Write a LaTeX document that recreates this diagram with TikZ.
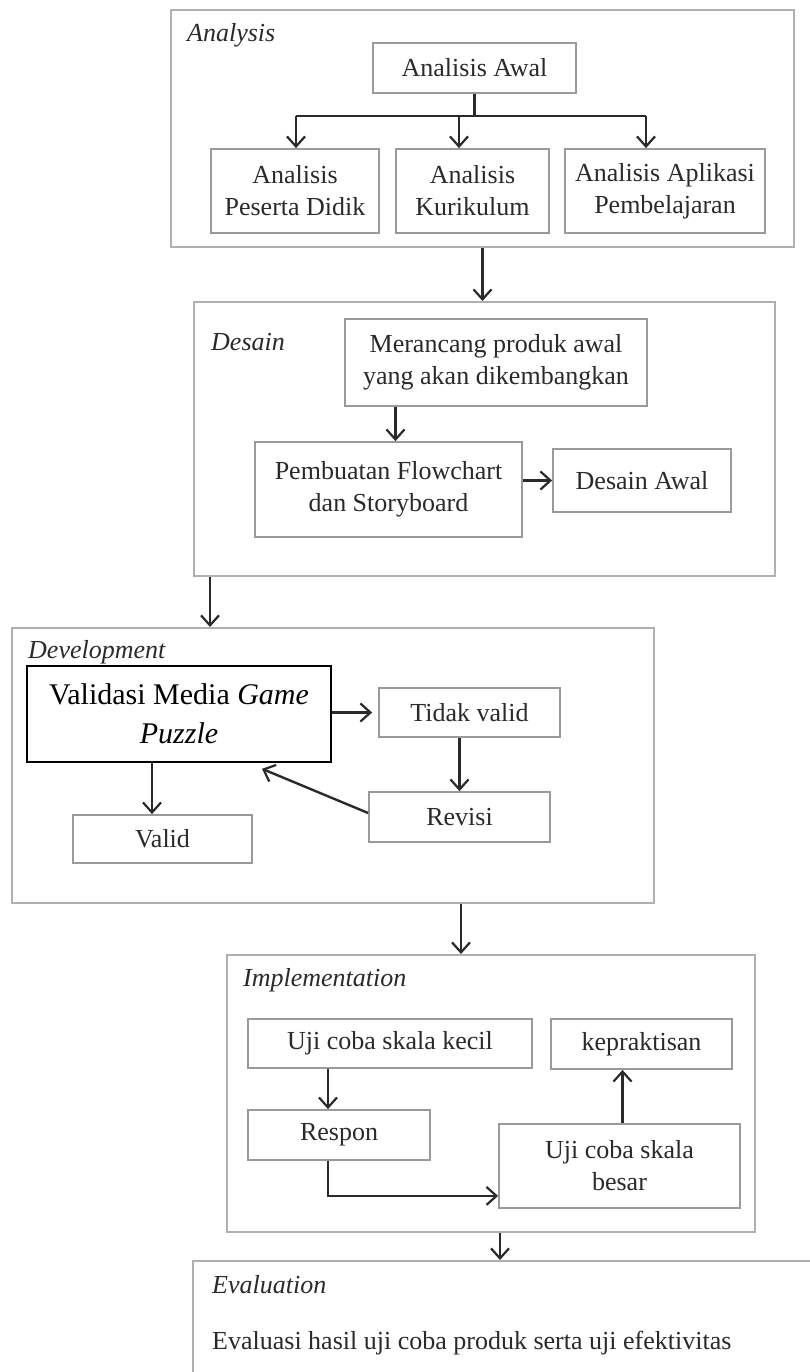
\documentclass[tikz,border=0pt]{standalone}
\usepackage{fontspec}
\setmainfont{Liberation Serif}
\usetikzlibrary{arrows.meta,calc,positioning}
\definecolor{BoxGray}{HTML}{9A9A9A}
\definecolor{FrameGray}{HTML}{B0B0B0}
\definecolor{InkGray}{HTML}{2A2A2A}
\tikzset{
    block/.style = {draw=BoxGray, rectangle, line width=1.8pt,
        inner sep=0pt, align=center, text=InkGray,
        font=\fontsize{26}{32}\selectfont},
    phase/.style = {draw=FrameGray, rectangle, line width=2pt, inner sep=0pt},
    tag/.style = {anchor=west, inner sep=0pt, text=InkGray,
        font=\fontsize{26}{32}\selectfont\itshape},
    arrow/.style = {draw=InkGray, ->, line width=2.4pt},
    line/.style = {draw=InkGray, line width=2.4pt}
}

\begin{document}
\begin{tikzpicture}[x=1pt, y=-1pt, >={Straight Barb[length=10pt,width=18pt,line width=2.2pt]}]
        \useasboundingbox (0,0) rectangle (809,1372);
        \fill[white] (0,0) rectangle (809,1372);
        % phase frames
        \node [phase, minimum width=623pt, minimum height=237pt] (analysis) at (482.5,128.5) {};
        \node [phase, minimum width=581pt, minimum height=274pt] (desain) at (484.5,439) {};
        \node [phase, minimum width=642pt, minimum height=275pt] (devel) at (333,765.5) {};
        \node [phase, minimum width=528pt, minimum height=277pt] (impl) at (491,1093.5) {};
        \node [phase, minimum width=657pt, minimum height=139pt] (eval) at (521.5,1330.5) {};
        \node [tag] (tanalysis) at (187,35) {Analysis};
        \node [tag] (tdesain) at (211,342) {Desain};
        \node [tag] (tdevel) at (28,652) {Development};
        \node [tag] (timpl) at (243,980) {Implementation};
        \node [tag] (teval) at (212,1285) {Evaluation};
        \node [tag, font=\fontsize{26}{32}\selectfont] (evaltext) at (212,1343) {Evaluasi hasil uji coba produk serta uji efektivitas};
        % analysis
        \node [block, minimum width=203pt, minimum height=50pt] (awal) at (474.5,68) {Analisis Awal};
        \node [block, minimum width=168pt, minimum height=84pt] (peserta) at (295,191) {Analisis\\Peserta Didik};
        \node [block, minimum width=153pt, minimum height=84pt] (kurikulum) at (472.5,191) {Analisis\\Kurikulum};
        \node [block, minimum width=200pt, minimum height=84pt] (aplikasi) at (665,191) {Analisis Aplikasi\\Pembelajaran};
        \coordinate (split) at (474.5,116);
        \coordinate (bl) at (296,116);
        \coordinate (bm) at (459,116);
        \coordinate (br) at (646,116);
        \draw [line] (awal) -- (split);
        \draw [line] (bl) -- (br);
        \draw [arrow] (bl) -- (bl |- peserta.north);
        \draw [arrow] (bm) -- (bm |- kurikulum.north);
        \draw [arrow] (br) -- (br |- aplikasi.north);
        \draw [arrow] (analysis.south) -- (analysis.south |- desain.north);
        % desain
        \node [block, minimum width=302pt, minimum height=87pt] (merancang) at (496,362.5) {Merancang produk awal\\yang akan dikembangkan};
        \node [block, minimum width=267pt, minimum height=95pt] (flowchart) at (388.5,489.5) {Pembuatan Flowchart\\dan Storyboard};
        \node [block, minimum width=178pt, minimum height=63pt] (desawal) at (642,480.5) {Desain Awal};
        \draw [arrow] ([xshift=7pt]flowchart.north |- merancang.south) -- ([xshift=7pt]flowchart.north);
        \draw [arrow] (flowchart.east |- desawal.west) -- (desawal.west);
        \draw [arrow] ([xshift=17pt]desain.south west) -- ([xshift=17pt]desain.south west |- devel.north);
        % development
        \node [block, draw=black, text=black, line width=1.6pt, minimum width=304pt, minimum height=96pt,
            font=\fontsize{30}{39}\selectfont] (validasi) at (179,714) {Validasi Media \textit{Game}\\\textit{Puzzle}};
        \node [block, minimum width=181pt, minimum height=49pt] (tidak) at (469.5,712.5) {Tidak valid};
        \node [block, minimum width=181pt, minimum height=50pt] (revisi) at (459.5,817) {Revisi};
        \node [block, minimum width=179pt, minimum height=48pt] (valid) at (162.5,839) {Valid};
        \draw [arrow] (validasi.east |- tidak.west) -- ([xshift=-6pt]tidak.west);
        \draw [arrow] (revisi.north |- tidak.south) -- (revisi.north);
        \draw [arrow] ([yshift=4pt]revisi.west) -- ([xshift=83pt,yshift=-6pt]validasi.south);
        \draw [arrow] ([xshift=-27pt]validasi.south) -- ([xshift=-27pt]validasi.south |- valid.north);
        \draw [arrow] ([xshift=128pt]devel.south) -- ([xshift=128pt]devel.south |- impl.north);
        % implementation
        \node [block, minimum width=284pt, minimum height=49pt] (kecil) at (390,1043.5) {Uji coba skala kecil};
        \node [block, minimum width=181pt, minimum height=50pt] (praktis) at (641.5,1044) {kepraktisan};
        \node [block, minimum width=182pt, minimum height=50pt] (respon) at (339,1135) {Respon};
        \node [block, minimum width=241pt, minimum height=84pt] (besar) at (619.5,1166) {Uji coba skala\\besar};
        \draw [arrow] ([xshift=-11pt]respon.north |- kecil.south) -- ([xshift=-11pt]respon.north);
        \draw [arrow] ([xshift=-11pt]respon.south) |- ([yshift=13pt]besar.south west);
        \draw [arrow] ([xshift=3pt]besar.north) -- ([xshift=3pt]besar.north |- praktis.south);
        \draw [arrow] ([xshift=9pt]impl.south) -- ([xshift=9pt]impl.south |- eval.north);
        \end{tikzpicture}
\end{document}
